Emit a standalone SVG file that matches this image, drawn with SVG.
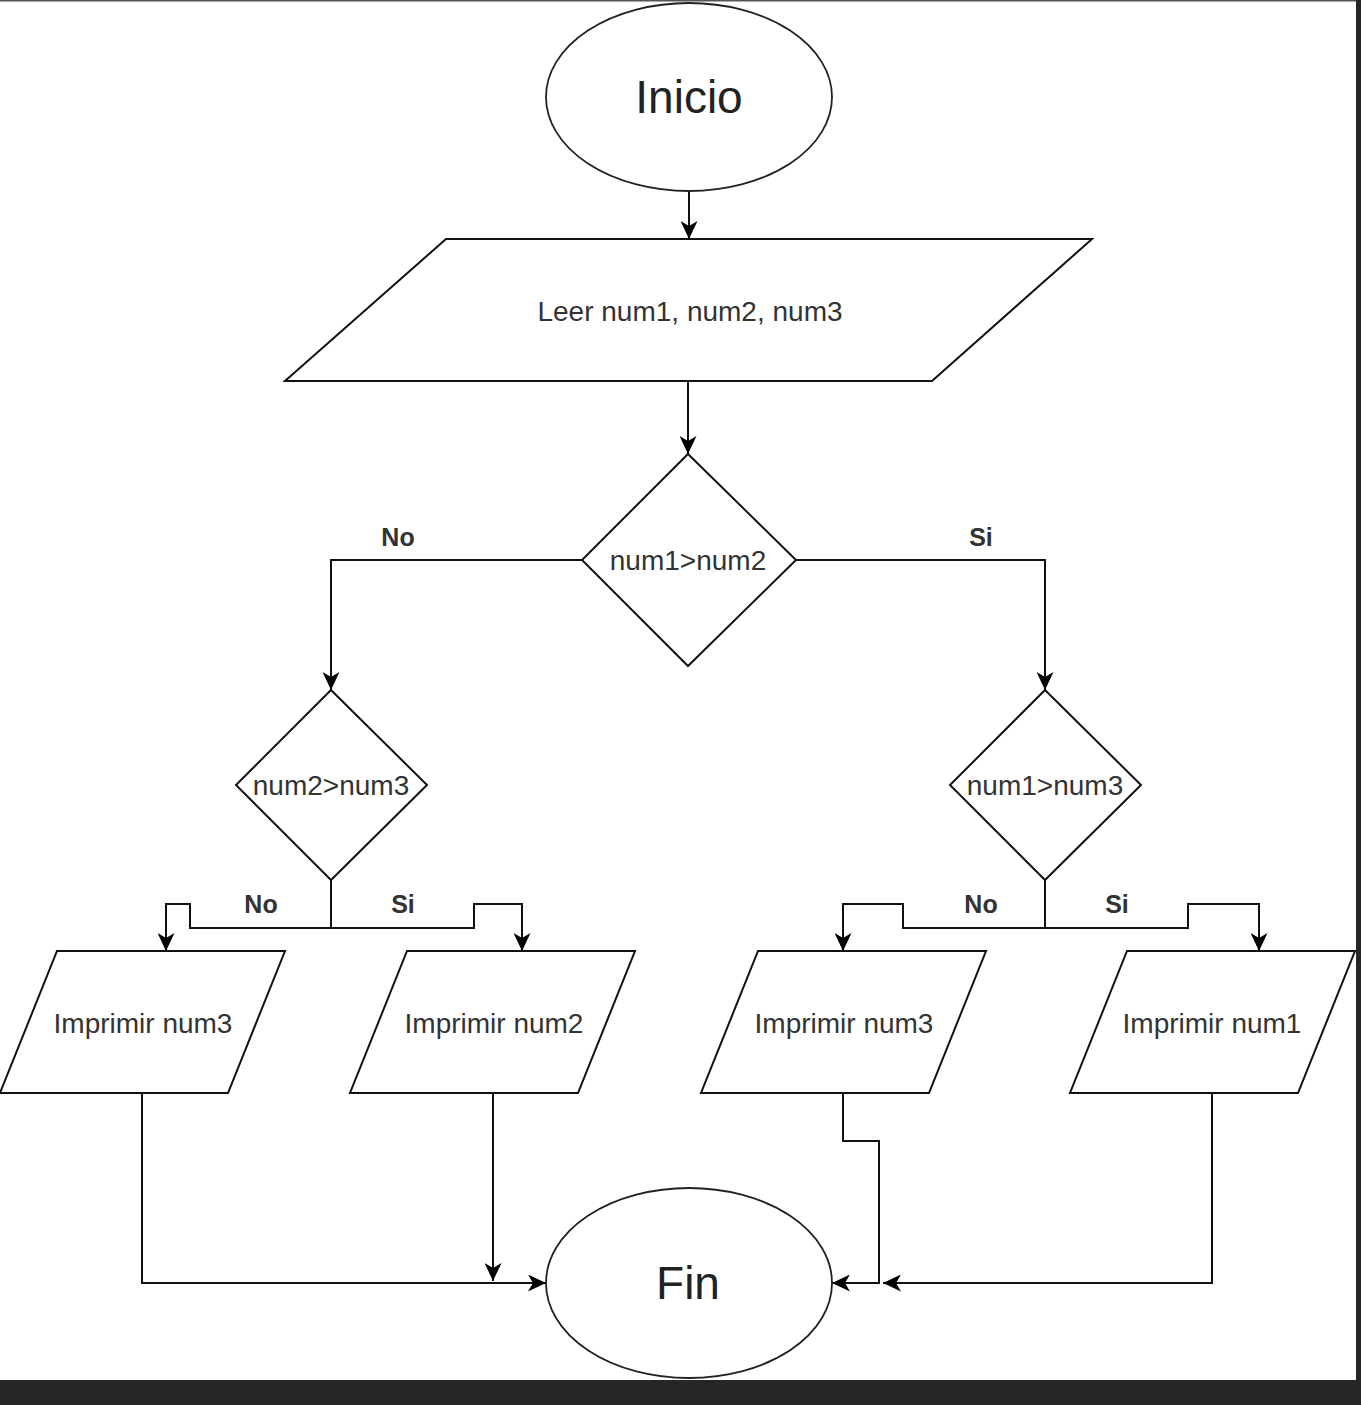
<svg xmlns="http://www.w3.org/2000/svg" width="1361" height="1405" viewBox="0 0 1361 1405">
<style>
.shape{fill:#ffffff;stroke:#111111;stroke-width:2}
.oval{fill:#ffffff;stroke:#222222;stroke-width:1.8}
.edge{fill:none;stroke:#111111;stroke-width:2}
.txt{font-family:"Liberation Sans",Arial,sans-serif;font-size:28px;fill:#333333;text-anchor:middle;dominant-baseline:central}
.big{font-size:46px;fill:#222222}
.lbl{font-family:"Liberation Sans",Arial,sans-serif;font-size:25px;font-weight:bold;fill:#333333;text-anchor:middle;dominant-baseline:central}
</style>
<defs>
<marker id="arr" markerUnits="userSpaceOnUse" markerWidth="18" markerHeight="17" refX="18" refY="8.5" orient="auto" viewBox="0 0 18 17">
<path d="M0,0 L18,8.5 L0,17 L5,8.5 Z" fill="#000000"/>
</marker>
</defs>
<rect x="0" y="0" width="1361" height="1405" fill="#ffffff"/>
<rect x="0" y="0" width="1361" height="1.5" fill="#555555"/>
<rect x="1356" y="0" width="5" height="1405" fill="#262626"/>
<rect x="0" y="1380" width="1361" height="25" fill="#262626"/>

<g id="connectors">
<path class="edge" d="M689,192 L689,239" marker-end="url(#arr)"/>
<path class="edge" d="M688,381 L688,454" marker-end="url(#arr)"/>
<path class="edge" d="M582,560 L331,560 L331,690" marker-end="url(#arr)"/>
<path class="edge" d="M796,560 L1045,560 L1045,690" marker-end="url(#arr)"/>
<path class="edge" d="M331,880 L331,928 L190,928 L190,904 L166,904 L166,951" marker-end="url(#arr)"/>
<path class="edge" d="M331,928 L474,928 L474,904 L522,904 L522,951" marker-end="url(#arr)"/>
<path class="edge" d="M1045,880 L1045,928 L903,928 L903,904 L843,904 L843,951" marker-end="url(#arr)"/>
<path class="edge" d="M1045,928 L1188,928 L1188,904 L1259,904 L1259,951" marker-end="url(#arr)"/>
<path class="edge" d="M142,1093 L142,1283 L546,1283" marker-end="url(#arr)"/>
<path class="edge" d="M493,1093 L493,1281" stroke="#555555" marker-end="url(#arr)"/>
<path class="edge" d="M843,1093 L843,1141 L879,1141 L879,1283 L832,1283" marker-end="url(#arr)"/>
<path class="edge" d="M1212,1093 L1212,1283 L883,1283" marker-end="url(#arr)"/>
<text class="lbl" x="398" y="537">No</text>
<text class="lbl" x="981" y="537">Si</text>
<text class="lbl" x="261" y="904">No</text>
<text class="lbl" x="403" y="904">Si</text>
<text class="lbl" x="981" y="904">No</text>
<text class="lbl" x="1117" y="904">Si</text>
</g>

<g id="inicio">
<ellipse class="oval" cx="689" cy="97" rx="143" ry="94"/>
<text class="txt big" x="689" y="97">Inicio</text>
</g>
<g id="leer">
<polygon class="shape" points="446,239 1092,239 932,381 285,381"/>
<text class="txt" x="690" y="311">Leer num1, num2, num3</text>
</g>
<g id="dec1">
<polygon class="shape" points="688,454 796,560 688,666 582,560"/>
<text class="txt" x="688" y="560">num1&gt;num2</text>
</g>
<g id="dec2">
<polygon class="shape" points="331,690 427,785 331,880 236,785"/>
<text class="txt" x="331" y="785">num2&gt;num3</text>
</g>
<g id="dec3">
<polygon class="shape" points="1045,690 1141,785 1045,880 950,785"/>
<text class="txt" x="1045" y="785">num1&gt;num3</text>
</g>
<g id="out1">
<polygon class="shape" points="57,951 285,951 228,1093 0,1093"/>
<text class="txt" x="143" y="1023">Imprimir num3</text>
</g>
<g id="out2">
<polygon class="shape" points="407,951 635,951 578,1093 350,1093"/>
<text class="txt" x="494" y="1023">Imprimir num2</text>
</g>
<g id="out3">
<polygon class="shape" points="758,951 986,951 929,1093 701,1093"/>
<text class="txt" x="844" y="1023">Imprimir num3</text>
</g>
<g id="out4">
<polygon class="shape" points="1127,951 1355,951 1298,1093 1070,1093"/>
<text class="txt" x="1212" y="1023">Imprimir num1</text>
</g>
<g id="fin">
<ellipse class="oval" cx="689" cy="1283" rx="143" ry="95"/>
<text class="txt big" x="688" y="1283">Fin</text>
</g>
</svg>
